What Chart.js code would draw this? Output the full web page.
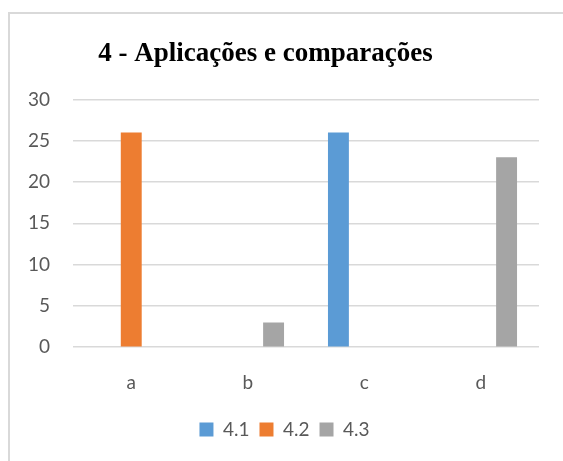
<!DOCTYPE html>
<html>
<head>
<meta charset="utf-8">
<script src="https://cdn.jsdelivr.net/npm/chart.js@4/dist/chart.umd.min.js"></script>
<style>
  html, body { margin: 0; padding: 0; background: #fff; }
  #wrap { position: relative; width: 563px; height: 461px; overflow: hidden; }
  #frame { position: absolute; left: 8px; top: 12px; width: 600px; height: 500px; border: 2px solid #d9d9d9; box-sizing: border-box; }
  #chart { position: absolute; left: 0; top: 0; }
</style>
</head>
<body>
<div id="wrap">
  <div id="frame"></div>
  <canvas id="chart" width="563" height="461"></canvas>
</div>
<script>
// Data
const categories = ['a', 'b', 'c', 'd'];
const seriesNames = ['4.1', '4.2', '4.3'];
const values41 = [0, 0, 26, 0];
const values42 = [26, 0, 0, 0];
const values43 = [0, 3, 0, 23];
const yTicks = [0, 5, 10, 15, 20, 25, 30];

const colors = ['#5B9BD5', '#ED7D31', '#A5A5A5'];
const tickFont = { family: 'Lato, "Open Sans", sans-serif', size: 19 };

// nudge title / legend horizontally to match the original layout
const nudgeBoxes = {
  id: 'nudgeBoxes',
  afterLayout(chart) {
    const t = chart.titleBlock;
    if (t) { t.left -= 9; t.right -= 9; }
    const l = chart.legend;
    if (l) { l.left += 10; l.right += 10; }
  }
};

const ctx = document.getElementById('chart').getContext('2d');
const chart = new Chart(ctx, {
  type: 'bar',
  data: {
    labels: categories,
    datasets: [
      { label: seriesNames[0], data: values41, backgroundColor: colors[0] },
      { label: seriesNames[1], data: values42, backgroundColor: colors[1] },
      { label: seriesNames[2], data: values43, backgroundColor: colors[2] }
    ]
  },
  options: {
    responsive: false,
    devicePixelRatio: 1,
    animation: false,
    categoryPercentage: 0.665,
    barPercentage: 0.81,
    layout: { padding: { top: 12, left: 10, right: 24, bottom: 12 } },
    plugins: {
      title: {
        display: true,
        text: '4 - Aplicações e comparações',
        color: '#000',
        font: { family: '"Liberation Serif", "Times New Roman", serif', size: 27, weight: 'bold' },
        padding: { top: 26, bottom: 29 }
      },
      legend: {
        display: true,
        position: 'bottom',
        labels: {
          boxWidth: 14,
          boxHeight: 14,
          padding: 10,
          color: '#595959',
          font: tickFont
        }
      },
      tooltip: { enabled: false }
    },
    scales: {
      x: {
        grid: { display: false },
        border: { display: false },
        ticks: { color: '#595959', font: tickFont, padding: 16 }
      },
      y: {
        min: 0,
        max: 30,
        afterBuildTicks: (scale) => { scale.ticks = yTicks.map(v => ({ value: v })); },
        afterFit: (scale) => { scale.width = 63; },
        grid: { color: '#d9d9d9', lineWidth: 1.5, drawTicks: false },
        border: { display: false },
        ticks: { color: '#595959', font: tickFont, padding: 23 }
      }
    }
  },
  plugins: [nudgeBoxes]
});
</script>
</body>
</html>
